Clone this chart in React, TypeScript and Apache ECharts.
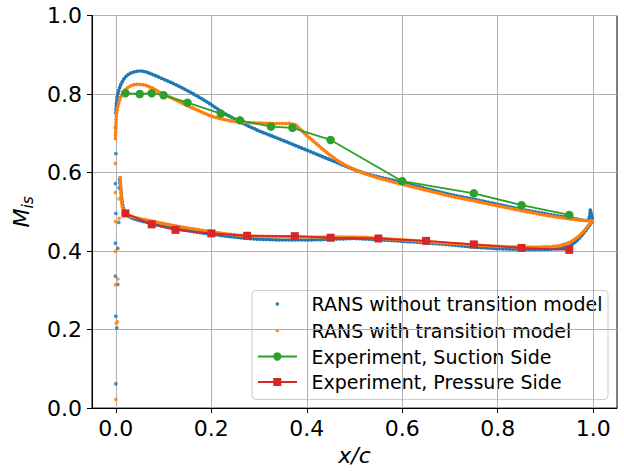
import React, { useEffect, useRef } from 'react';
import * as echarts from 'echarts';

const BLUE = '#1f77b4';
const ORANGE = '#ff7f0e';
const GREEN = '#2ca02c';
const RED = '#d62728';
const FONT = '"DejaVu Sans", sans-serif';

const xTickValues = [0, 0.2, 0.4, 0.6, 0.8, 1.0];

const seriesNames = [
  'RANS without transition model',
  'RANS with transition model',
  'Experiment, Suction Side',
  'Experiment, Pressure Side',
];

// RANS without transition model (blue)
const blueSuctionX = [0.0, 0.001, 0.003, 0.007, 0.011, 0.016, 0.022, 0.03, 0.04, 0.05, 0.062, 0.075, 0.09, 0.105, 0.12, 0.14, 0.16, 0.18, 0.2, 0.225, 0.25, 0.275, 0.3, 0.325, 0.35, 0.38, 0.41, 0.44, 0.47, 0.5, 0.53, 0.56, 0.6, 0.65, 0.7, 0.75, 0.8, 0.85, 0.9, 0.95, 0.98, 0.99, 0.993, 0.994, 0.997, 1.0];
const blueSuctionY = [0.752, 0.775, 0.795, 0.813, 0.826, 0.837, 0.846, 0.853, 0.857, 0.859, 0.857, 0.851, 0.843, 0.835, 0.827, 0.815, 0.802, 0.788, 0.773, 0.752, 0.736, 0.72, 0.706, 0.694, 0.682, 0.667, 0.652, 0.637, 0.622, 0.607, 0.595, 0.586, 0.575, 0.559, 0.544, 0.532, 0.519, 0.506, 0.495, 0.485, 0.478, 0.478, 0.49, 0.506, 0.49, 0.478];
const bluePressureX = [0.008, 0.01, 0.012, 0.015, 0.02, 0.028, 0.04, 0.055, 0.075, 0.1, 0.125, 0.15, 0.175, 0.2, 0.23, 0.26, 0.3, 0.35, 0.4, 0.45, 0.5, 0.55, 0.6, 0.65, 0.7, 0.75, 0.8, 0.85, 0.9, 0.93, 0.95, 0.965, 0.978, 0.988, 0.995, 1.0];
const bluePressureY = [0.582, 0.56, 0.535, 0.512, 0.496, 0.487, 0.481, 0.476, 0.47, 0.463, 0.457, 0.452, 0.447, 0.443, 0.438, 0.434, 0.43, 0.428, 0.428, 0.43, 0.432, 0.429, 0.425, 0.421, 0.416, 0.41, 0.406, 0.404, 0.404, 0.406, 0.412, 0.425, 0.442, 0.458, 0.47, 0.477];
const blueLeadingX = [-0.001, 0.0, -0.001, 0.007, 0.0, 0.006, -0.001, 0.004, -0.001, 0.004, 0.0, 0.002, 0.0];
const blueLeadingY = [0.714, 0.648, 0.572, 0.561, 0.496, 0.473, 0.42, 0.407, 0.336, 0.315, 0.234, 0.204, 0.062];

// RANS with transition model (orange)
const orangeSuctionX = [-0.001, 0.0, 0.001, 0.003, 0.006, 0.01, 0.015, 0.021, 0.028, 0.036, 0.045, 0.055, 0.065, 0.077, 0.09, 0.105, 0.12, 0.135, 0.15, 0.165, 0.18, 0.195, 0.21, 0.23, 0.25, 0.275, 0.3, 0.33, 0.36, 0.375, 0.385, 0.395, 0.405, 0.415, 0.43, 0.448, 0.465, 0.485, 0.505, 0.525, 0.55, 0.575, 0.6, 0.65, 0.7, 0.75, 0.8, 0.85, 0.9, 0.95, 0.98, 1.0];
const orangeSuctionY = [0.686, 0.72, 0.745, 0.762, 0.778, 0.792, 0.804, 0.813, 0.819, 0.823, 0.825, 0.824, 0.821, 0.815, 0.806, 0.797, 0.788, 0.779, 0.77, 0.762, 0.754, 0.746, 0.74, 0.734, 0.73, 0.727, 0.726, 0.725, 0.725, 0.723, 0.712, 0.7, 0.689, 0.679, 0.663, 0.645, 0.63, 0.616, 0.605, 0.596, 0.586, 0.578, 0.57, 0.555, 0.54, 0.528, 0.515, 0.503, 0.491, 0.482, 0.478, 0.477];
const orangePressureX = [0.009, 0.01, 0.011, 0.012, 0.013, 0.017, 0.022, 0.03, 0.045, 0.06, 0.077, 0.1, 0.125, 0.15, 0.175, 0.2, 0.23, 0.27, 0.32, 0.37, 0.42, 0.47, 0.52, 0.57, 0.62, 0.67, 0.72, 0.77, 0.82, 0.87, 0.91, 0.93, 0.945, 0.958, 0.97, 0.98, 0.988, 0.994, 1.0];
const orangePressureY = [0.587, 0.57, 0.553, 0.533, 0.515, 0.502, 0.494, 0.489, 0.484, 0.48, 0.476, 0.47, 0.464, 0.459, 0.454, 0.449, 0.444, 0.439, 0.437, 0.436, 0.436, 0.436, 0.435, 0.431, 0.427, 0.422, 0.418, 0.414, 0.411, 0.41, 0.411, 0.414, 0.419, 0.427, 0.438, 0.45, 0.462, 0.471, 0.477];
const orangeLeadingX = [-0.001, -0.001, 0.007, 0.007, -0.001, -0.001, 0.004, -0.001, 0.003, 0.001, 0.0];
const orangeLeadingY = [0.623, 0.549, 0.533, 0.483, 0.475, 0.399, 0.329, 0.314, 0.22, 0.216, 0.022];

// Experiment
const suctionX = [0.02, 0.05, 0.075, 0.1, 0.15, 0.22, 0.26, 0.325, 0.37, 0.45, 0.6, 0.75, 0.85, 0.95];
const suctionY = [0.802, 0.8, 0.802, 0.797, 0.778, 0.75, 0.733, 0.717, 0.714, 0.683, 0.578, 0.547, 0.517, 0.492];
const pressureX = [0.02, 0.075, 0.125, 0.2, 0.275, 0.375, 0.45, 0.55, 0.65, 0.75, 0.85, 0.95];
const pressureY = [0.496, 0.468, 0.454, 0.445, 0.439, 0.438, 0.434, 0.432, 0.426, 0.417, 0.408, 0.403];

const zip = (xs: number[], ys: number[]) => xs.map((x, i) => [x, ys[i]]);

export default function App() {
  const ref = useRef<HTMLDivElement>(null);
  useEffect(() => {
    const chart = echarts.init(ref.current!, null, { renderer: 'svg' });
    const dotted = (name: string, color: string, xs: number[], ys: number[]) => ({
      type: 'line',
      name,
      data: zip(xs, ys),
      showSymbol: false,
      symbol: 'none',
      silent: true,
      itemStyle: { color },
      lineStyle: { color, width: 3.6, type: [0.3, 2.9], cap: 'round', join: 'round' },
    });
    const scatter = (name: string, color: string, xs: number[], ys: number[]) => ({
      type: 'scatter',
      name,
      data: zip(xs, ys),
      symbol: 'circle',
      symbolSize: 3.8,
      silent: true,
      itemStyle: { color },
    });
    const rowY = [304, 330.5, 356.5, 382];
    const legendX = 277.3;
    const textX = 311.5;
    const option: any = {
      animation: false,
      backgroundColor: '#ffffff',
      grid: { left: 92, right: 7, top: 15.5, bottom: 61.5, show: true, borderColor: '#000', borderWidth: 1, backgroundColor: 'transparent', containLabel: false },
      xAxis: {
        type: 'value',
        min: -0.05,
        max: 1.05,
        name: 'x/c',
        nameLocation: 'middle',
        nameGap: 31,
        nameTextStyle: { fontFamily: FONT, fontSize: 22, fontStyle: 'italic', color: '#000' },
        axisLine: { show: true, onZero: false, lineStyle: { color: '#000', width: 1 } },
        axisTick: { show: true, inside: false, length: 5, lineStyle: { color: '#000', width: 1 }, customValues: xTickValues },
        axisLabel: { customValues: xTickValues, margin: 9, fontFamily: FONT, fontSize: 22, color: '#000', formatter: (v: number) => v.toFixed(1) },
        splitLine: { show: true, lineStyle: { color: '#b0b0b0', width: 1 } },
      },
      yAxis: {
        type: 'value',
        min: 0,
        max: 1,
        interval: 0.2,
        name: '{m|M}{s|is}',
        nameLocation: 'middle',
        nameRotate: 90,
        nameGap: 46,
        nameTextStyle: {
          rich: {
            m: { fontFamily: FONT, fontSize: 22, fontStyle: 'italic', color: '#000', lineHeight: 30 },
            s: { fontFamily: FONT, fontSize: 15.5, fontStyle: 'italic', color: '#000', lineHeight: 14, verticalAlign: 'bottom' },
          },
        },
        axisLine: { show: true, onZero: false, lineStyle: { color: '#000', width: 1 } },
        axisTick: { show: true, inside: false, length: 5, lineStyle: { color: '#000', width: 1 } },
        axisLabel: { margin: 10, fontFamily: FONT, fontSize: 22, color: '#000', formatter: (v: number) => v.toFixed(1) },
        splitLine: { show: true, lineStyle: { color: '#b0b0b0', width: 1 } },
      },
      series: [
        dotted(seriesNames[0], BLUE, blueSuctionX, blueSuctionY),
        dotted(seriesNames[0], BLUE, bluePressureX, bluePressureY),
        scatter(seriesNames[0], BLUE, blueLeadingX, blueLeadingY),
        dotted(seriesNames[1], ORANGE, orangeSuctionX, orangeSuctionY),
        dotted(seriesNames[1], ORANGE, orangePressureX, orangePressureY),
        scatter(seriesNames[1], ORANGE, orangeLeadingX, orangeLeadingY),
        {
          type: 'line', name: seriesNames[2], data: zip(suctionX, suctionY),
          symbol: 'circle', symbolSize: 8.5, showAllSymbol: true,
          itemStyle: { color: GREEN }, lineStyle: { color: GREEN, width: 1.8 },
        },
        {
          type: 'line', name: seriesNames[3], data: zip(pressureX, pressureY),
          symbol: 'rect', symbolSize: 8, showAllSymbol: true,
          itemStyle: { color: RED }, lineStyle: { color: RED, width: 1.8 },
        },
      ],
      graphic: [
        {
          type: 'group', z: 100, children: [
            { type: 'rect', shape: { x: 252, y: 290.5, width: 356, height: 109, r: 4 }, style: { fill: 'rgba(255,255,255,0.8)', stroke: '#cccccc', lineWidth: 1 } },
            { type: 'circle', shape: { cx: legendX, cy: rowY[0], r: 1.7 }, style: { fill: BLUE } },
            { type: 'circle', shape: { cx: legendX, cy: rowY[1], r: 1.7 }, style: { fill: ORANGE } },
            { type: 'line', shape: { x1: 258, y1: rowY[2], x2: 297, y2: rowY[2] }, style: { stroke: GREEN, lineWidth: 1.8 } },
            { type: 'circle', shape: { cx: legendX, cy: rowY[2], r: 4.2 }, style: { fill: GREEN } },
            { type: 'line', shape: { x1: 258, y1: rowY[3], x2: 297, y2: rowY[3] }, style: { stroke: RED, lineWidth: 1.8 } },
            { type: 'rect', shape: { x: legendX - 4, y: rowY[3] - 4, width: 8, height: 8 }, style: { fill: RED } },
            ...seriesNames.map((t, i) => ({
              type: 'text', x: textX, y: rowY[i],
              style: { text: t, fontFamily: FONT, fontSize: 19, fill: '#000', align: 'left', verticalAlign: 'middle' },
            })),
          ],
        },
      ],
    };
    chart.setOption(option);
    return () => chart.dispose();
  }, []);
  return <div ref={ref} style={{ position: 'fixed', left: 0, top: 0, width: 624, height: 471 }} />;
}
